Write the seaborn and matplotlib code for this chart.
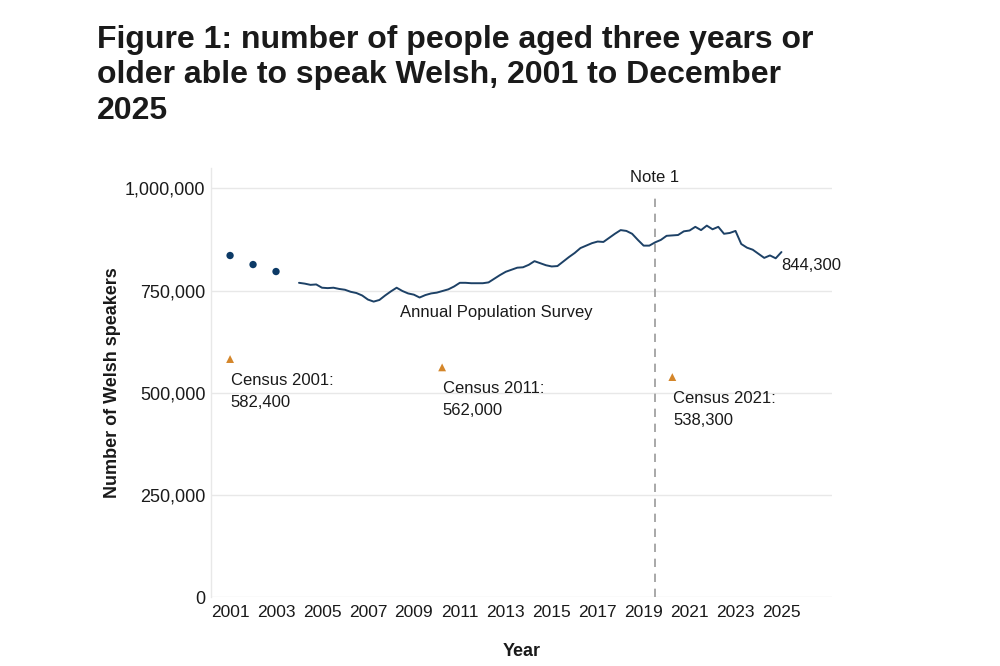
import numpy as np
import pandas as pd
import matplotlib
matplotlib.use("Agg")
import matplotlib.pyplot as plt
import seaborn as sns
from matplotlib.ticker import FuncFormatter

# ---- data ----
early_years = [2001, 2002, 2003]
early_values = [835800, 813700, 796600]

aps_start = 2004.0
aps_values = [
    769000, 767000, 764000, 765000, 757000, 756000, 757000, 754000,  # 2004-2005
    752000, 747000, 744000, 738000, 728000, 723000, 727000, 738000,  # 2006-2007
    748000, 757000, 749000, 743000, 740000, 733000, 739000, 743000,  # 2008-2009
    745000, 749000, 753000, 760000, 769000, 769000, 768000, 768000,  # 2010-2011
    768000, 770000, 779000, 788000, 796000, 801000, 806000, 807000,  # 2012-2013
    813000, 822000, 817000, 812000, 809000, 810000, 821000, 832000,  # 2014-2015
    842000, 854000, 860000, 866000, 870000, 869000, 879000, 889000,  # 2016-2017
    898000, 896000, 889000, 874000, 860000, 860000, 868000, 874000,  # 2018-2019
    884000, 885000, 886000, 895000, 897000, 906000, 898000, 909000,  # 2020-2021
    900000, 906000, 889000, 891000, 896000, 864000, 855000, 850000,  # 2022-2023
    840000, 830000, 836000, 829000, 844300,                          # 2024-2025
]
aps_years = [aps_start + 0.25 * i for i in range(len(aps_values))]

census_years = [2001.0, 2010.23, 2020.25]
census_values = [582400, 562000, 538300]
census_labels = ["Census 2001:\n582,400", "Census 2011:\n562,000", "Census 2021:\n538,300"]

note_year = 2019.48
tick_years = list(range(2001, 2026, 2))
y_ticks = [0, 250000, 500000, 750000, 1000000]

title = ("Figure 1: number of people aged three years or\n"
         "older able to speak Welsh, 2001 to December\n2025")

# ---- style ----
sns.set_theme(style="white")
plt.rcParams["font.family"] = ["Liberation Sans", "DejaVu Sans"]

line_color = "#1d4166"
dot_color = "#0c3a66"
tri_color = "#d4862a"
grid_color = "#e8e8e8"
text_color = "#1a1a1a"

fig = plt.figure(figsize=(10, 6.66), dpi=100)
ax = fig.add_axes([0.211, 1 - 597 / 666, 0.832 - 0.211, (597 - 168) / 666])

aps_df = pd.DataFrame({"year": aps_years, "value": aps_values})
early_df = pd.DataFrame({"year": early_years, "value": early_values})
census_df = pd.DataFrame({"year": census_years, "value": census_values})

sns.lineplot(data=aps_df, x="year", y="value", ax=ax, color=line_color, linewidth=1.4)
sns.scatterplot(data=early_df, x="year", y="value", ax=ax, color=dot_color, s=28,
                edgecolor="none", zorder=3)
sns.scatterplot(data=census_df, x="year", y="value", ax=ax, color=tri_color, marker="^",
                s=32, edgecolor="none", zorder=3)

ax.set_xlim(2000.17, 2027.2)
ax.set_ylim(0, 1050000)
ax.set_xticks(tick_years)
ax.set_yticks(y_ticks)
ax.yaxis.set_major_formatter(FuncFormatter(lambda v, p: f"{int(v):,}"))

for v in y_ticks:
    ax.axhline(v, color=grid_color, linewidth=1.0, zorder=0)

ax.axvline(note_year, ymax=(1000000 - 20000) / 1050000, color="#9a9a9a",
           linewidth=1.2, linestyle=(0, (5, 4)), zorder=1)
ax.text(note_year, 1027000, "Note 1", ha="center", va="center", fontsize=12,
        color=text_color, clip_on=False)

for sp in ["top", "right", "bottom"]:
    ax.spines[sp].set_visible(False)
ax.spines["left"].set_color(grid_color)
ax.spines["left"].set_linewidth(1.0)

ax.tick_params(axis="both", which="both", length=3, width=0.8, color=grid_color,
               labelsize=13, labelcolor=text_color, pad=1)
ax.tick_params(axis="x", pad=3, labelsize=12.5)

ax.set_xlabel("Year", fontsize=13, fontweight="bold", color=text_color)
ax.set_ylabel("Number of Welsh speakers", fontsize=13, fontweight="bold",
              color=text_color)
ax.xaxis.set_label_coords(0.5, (597 - 643) / 429)
ax.yaxis.set_label_coords((121 - 211) / 621, 0.5)

# annotations
ax.text(2012.6, 696000, "Annual Population Survey", ha="center", va="center",
        fontsize=12, color=text_color)
ax.annotate(f"{aps_values[-1]:,}", xy=(aps_years[-1], aps_values[-1]),
            xytext=(0, -4.5), textcoords="offset points", ha="left", va="top",
            fontsize=12, color=text_color)
for yr, val, lab in zip(census_years, census_values, census_labels):
    ax.annotate(lab, xy=(yr, val), xytext=(0.5, -10), textcoords="offset points",
                ha="left", va="top", fontsize=12, color=text_color, linespacing=1.6)

fig.text(0.097, 0.963, title, ha="left", va="top", fontsize=23, fontweight="bold",
         color=text_color, linespacing=1.25)

fig.savefig("out.png", dpi=100, facecolor="white")
